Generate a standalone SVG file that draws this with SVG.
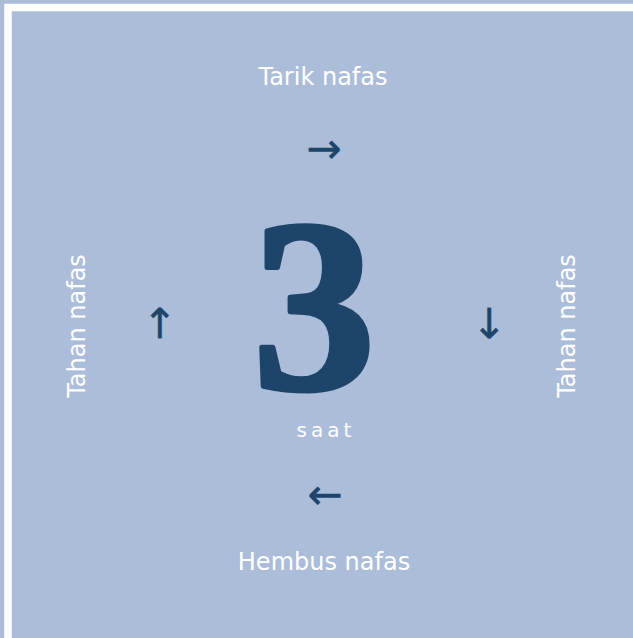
<svg xmlns="http://www.w3.org/2000/svg" width="633" height="638" viewBox="0 0 633 638">
<style>
.lbl{font-family:"DejaVu Sans",Verdana,sans-serif;font-size:24px;fill:#ffffff;text-anchor:middle}
.arr{font-family:"DejaVu Sans",sans-serif;font-size:42px;fill:#1d4469;stroke:#1d4469;stroke-width:0.4;text-anchor:middle}
.num{font-family:"Liberation Serif","Times New Roman",serif;font-weight:bold;font-size:246px;fill:#1d4469;stroke:#1d4469;stroke-width:5;stroke-linejoin:round;text-anchor:middle}
.unit{font-family:"DejaVu Sans",Verdana,sans-serif;font-size:20px;fill:#ffffff;text-anchor:middle;letter-spacing:4px}
</style>
<rect x="0" y="0" width="633" height="638" fill="#abbdd9"/>
<rect x="8" y="7.5" width="700" height="700" fill="none" stroke="#ffffff" stroke-width="7.5"/>
<g id="center">
<text class="num" x="314" y="389">3</text>
<text class="unit" x="326" y="437">saat</text>
</g>
<g id="top"><text class="lbl" x="323" y="85">Tarik nafas</text></g>
<g id="bottom"><text class="lbl" x="324" y="570">Hembus nafas</text></g>
<g id="left"><text class="lbl" transform="translate(85 326) rotate(-90)">Tahan nafas</text></g>
<g id="right"><text class="lbl" transform="translate(575 326) rotate(-90)">Tahan nafas</text></g>
<g id="connectors">
<text class="arr" x="324" y="163">→</text>
<text class="arr" x="325" y="509">←</text>
<text class="arr" transform="translate(173 323) rotate(-90)">→</text>
<text class="arr" transform="translate(476 323) rotate(90)">→</text>
</g>
</svg>
